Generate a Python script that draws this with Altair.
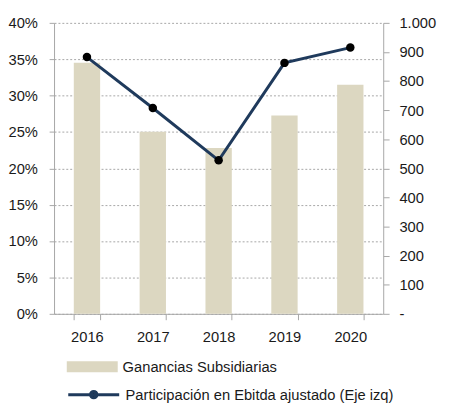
import altair as alt
import pandas as pd

years = ["2016", "2017", "2018", "2019", "2020"]
ganancias = [863, 626, 570, 682, 787]
participacion = [0.353, 0.283, 0.211, 0.345, 0.366]
bar_label = "Ganancias Subsidiarias"
line_label = "Participación en Ebitda ajustado (Eje izq)"

df = pd.DataFrame({
    "year": years,
    "ganancias": ganancias,
    "participacion": participacion,
    "s1": bar_label,
    "s2": line_label,
})

FONT = "Liberation Sans"
FS = 15
GREY = "#A6A6A6"
TXT = "#1a1a1a"
BAR = "#DCD7C1"
NAVY = "#1F3A5C"

x = alt.X(
    "year:N", title=None,
    scale=alt.Scale(paddingInner=0.6, paddingOuter=0.3),
    axis=alt.Axis(labelAngle=0, tickBand="extent", domainColor=GREY, tickColor=GREY,
                  tickSize=6, labelPadding=10, labelFontSize=FS, labelColor=TXT,
                  labelFont=FONT, grid=False),
)

bars = alt.Chart(df).mark_bar(color=BAR).encode(
    x=x,
    y=alt.Y("ganancias:Q", title=None,
            scale=alt.Scale(domain=[0, 1000], nice=False),
            axis=alt.Axis(orient="right", values=list(range(0, 1001, 100)),
                          labelExpr="datum.value == 0 ? '-' : replace(format(datum.value, ','), ',', '.')",
                          grid=False, domainColor=GREY, tickColor=GREY, tickSize=6,
                          labelPadding=10, labelFontSize=FS, labelColor=TXT, labelFont=FONT)),
    color=alt.Color("s1:N", scale=alt.Scale(range=[BAR]),
                    legend=alt.Legend(orient="none", legendX=29, legendY=341, title=None,
                                      symbolType="M-2.6,-0.55H2.6V0.55H-2.6Z", symbolSize=400,
                                      symbolStrokeWidth=0, labelOffset=21, padding=0, labelLimit=0,
                                      labelFontSize=FS, labelColor=TXT, labelFont=FONT)),
)

line = alt.Chart(df).mark_line(strokeWidth=3).encode(
    x=x,
    y=alt.Y("participacion:Q", title=None,
            scale=alt.Scale(domain=[0, 0.4], nice=False),
            axis=alt.Axis(orient="left", values=[i * 0.05 for i in range(9)], format=".0%",
                          grid=True, gridColor=GREY, gridDash=[2, 2], gridWidth=1,
                          domainColor=GREY, tickColor=GREY, tickSize=5,
                          labelPadding=12, labelFontSize=FS, labelColor=TXT, labelFont=FONT)),
    stroke=alt.Stroke("s2:N", scale=alt.Scale(range=[NAVY]),
                      legend=alt.Legend(orient="none", legendX=29, legendY=368, title=None,
                                        symbolType="M-2.6,0L2.6,0M0.33,0A0.33,0.33,0,1,1,-0.33,0A0.33,0.33,0,1,1,0.33,0Z",
                                        symbolSize=400, symbolStrokeWidth=3, symbolFillColor="#000",
                                        labelOffset=21, padding=0, labelLimit=0,
                                        labelFontSize=FS, labelColor=TXT, labelFont=FONT)),
)

points = alt.Chart(df).mark_circle(color="#000", size=75, opacity=1).encode(
    x=x,
    y=alt.Y("participacion:Q", scale=alt.Scale(domain=[0, 0.4], nice=False), axis=None),
)

chart = alt.layer(bars, line, points).resolve_scale(y="independent").properties(
    width=336, height=297,
    autosize=alt.AutoSizeParams(type="none"),
    padding={"left": 47, "top": 11, "right": 60, "bottom": 95},
).configure(font=FONT).configure_view(stroke=None)

chart.save("out.html", embed_options={"renderer": "svg", "actions": False})
